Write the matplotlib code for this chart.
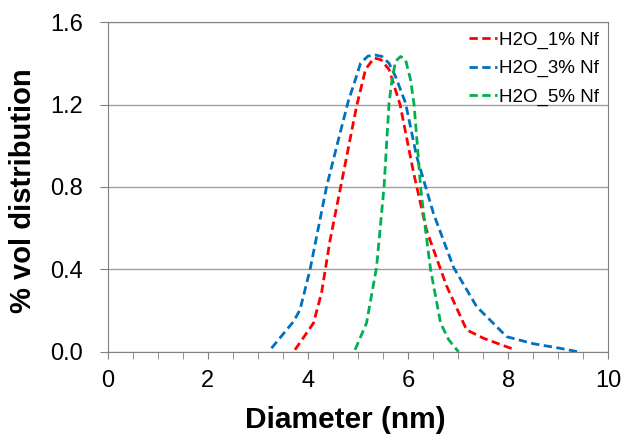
import numpy as np
from matplotlib import pyplot as plt

# diameter (nm) and % volume for each sample
d_1 = [3.74, 4.11, 4.27, 4.44, 4.71, 4.97, 5.15, 5.32, 5.46, 5.62, 5.84, 6.11, 6.37, 6.77, 7.17, 7.51, 8.14]
v_1 = [0.01, 0.14, 0.285, 0.54, 0.87, 1.19, 1.37, 1.426, 1.417, 1.37, 1.20, 0.87, 0.59, 0.32, 0.107, 0.066, 0.01]

d_3 = [3.27, 3.71, 3.84, 4.04, 4.37, 4.64, 4.81, 4.92, 5.05, 5.20, 5.35, 5.48, 5.62, 5.75, 5.95,
       6.17, 6.51, 6.91, 7.37, 7.97, 8.5, 9.03, 9.41]
v_3 = [0.018, 0.147, 0.204, 0.398, 0.80, 1.06, 1.22, 1.30, 1.40, 1.435, 1.44, 1.433, 1.40, 1.336, 1.207,
       0.95, 0.67, 0.41, 0.22, 0.074, 0.04, 0.018, 0.0]

d_5 = [4.94, 5.17, 5.37, 5.52, 5.62, 5.68, 5.75, 5.85, 5.95, 6.05, 6.12, 6.18, 6.25, 6.35, 6.45, 6.55,
       6.65, 6.81, 7.01]
v_5 = [0.01, 0.14, 0.41, 0.80, 1.207, 1.32, 1.41, 1.433, 1.417, 1.32, 1.20, 1.02, 0.80, 0.59, 0.40, 0.27,
       0.14, 0.06, 0.0]

labels = ['H2O_1% Nf', 'H2O_3% Nf', 'H2O_5% Nf']
colors = ['#FF0000', '#0070C0', '#00B050']

plt.rcParams['font.family'] = ['Liberation Sans', 'DejaVu Sans']

fig = plt.figure(figsize=(6.27, 4.41), dpi=100)
ax = fig.add_axes([0.172, 0.202, 0.798, 0.748])

for xs, ys, lab, col in zip([d_1, d_3, d_5], [v_1, v_3, v_5], labels, colors):
    ax.plot(xs, ys, ls=(0, (3, 1.6)), lw=2, color=col, label=lab)

ax.set_xlim(0, 10)
ax.set_ylim(0, 1.6)
ax.set_xticks(np.arange(0, 11, 2))
ax.set_xticks(np.arange(0, 10.01, 0.5), minor=True)
ax.set_yticks(np.arange(0, 1.61, 0.4))
ax.set_yticklabels(['%.1f' % v for v in np.arange(0, 1.61, 0.4)])
ax.yaxis.grid(True, color='#a0a0a0', lw=1)
ax.set_axisbelow(True)

for s in ax.spines.values():
    s.set_color('#808080')
ax.tick_params(axis='both', which='both', colors='#808080', labelcolor='black', labelsize=17)
ax.tick_params(axis='x', which='both', length=5, direction='out', pad=8)
ax.tick_params(axis='y', length=6, direction='out', pad=12)

ax.set_xlabel('Diameter (nm)', fontsize=21.5, fontweight='bold')
ax.set_ylabel('% vol distribution', fontsize=21, fontweight='bold')
ax.xaxis.set_label_coords(0.474, -0.165)
ax.yaxis.set_label_coords(-0.142, 0.49)

ax.legend(loc='upper right', frameon=False, fontsize=13.5, handlelength=1.5,
          handletextpad=0.1, labelspacing=0.6, borderaxespad=0.1)

plt.savefig('out.png', dpi=100)
